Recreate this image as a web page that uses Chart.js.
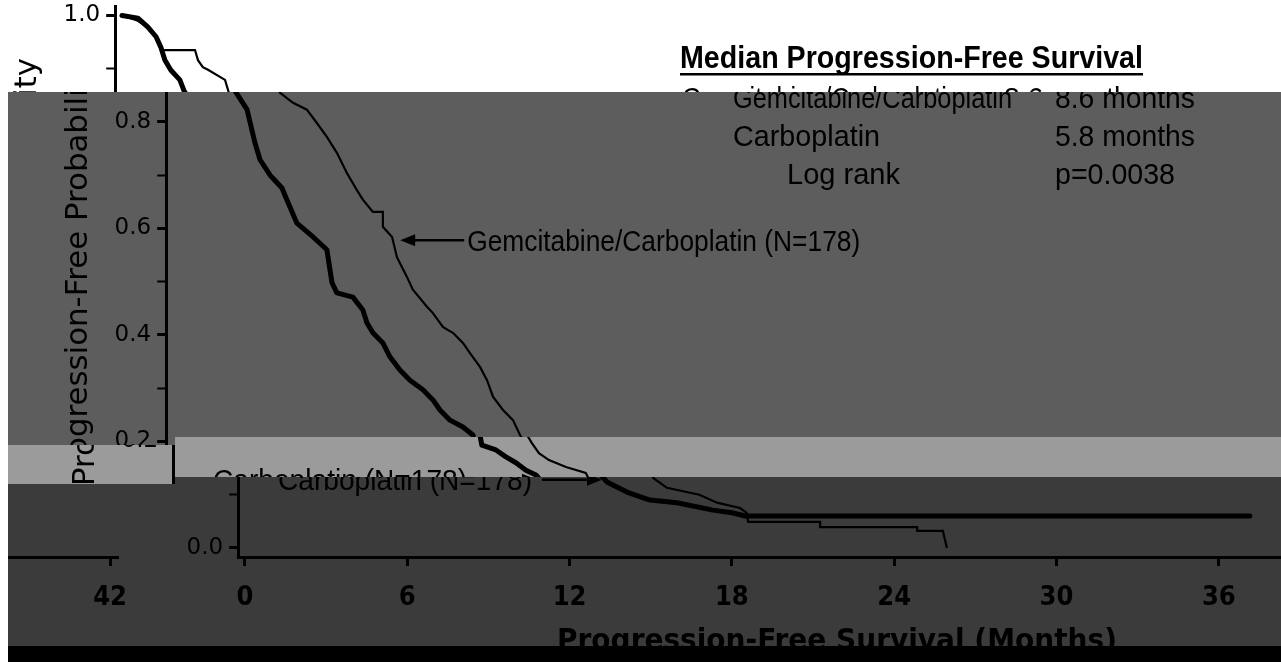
<!DOCTYPE html>
<html lang="en">
<head>
<meta charset="UTF-8" />
<title>Progression-Free Survival</title>
<script src="https://cdn.jsdelivr.net/npm/chart.js"></script>
<style>
  html, body { margin: 0; padding: 0; background: #fff; overflow: hidden; }
  #out { display: block; }
  #hold { position: absolute; left: -3000px; top: 0; }
</style>
</head>
<body>
<canvas id="out" width="1281" height="662"></canvas>
<div id="hold"><canvas id="src" width="1400" height="700"></canvas></div>
<script>
// months since randomisation and progression-free probability
const gemTime = [0, 0.59, 1.07, 1.33, 1.52, 2.70, 2.81, 2.99, 3.18, 3.81, 3.95, 4.44, 4.95, 5.32, 5.69, 6.06, 6.43, 6.80, 7.02, 7.39, 7.76, 7.76, 8.10, 8.28, 8.65, 8.87, 9.39, 9.61, 9.98, 10.17, 10.35, 10.72, 10.98, 11.35, 11.61, 11.83, 12.2, 12.57, 12.83, 13.01, 13.27, 13.64, 14.27, 15.0, 15.1, 15.6, 16.8, 17.45, 18.3, 18.55, 18.6, 21.26, 21.26, 24.85, 24.85, 25.8, 25.95];
const gemPFS  = [1.0, 0.99, 0.973, 0.954, 0.935, 0.935, 0.916, 0.903, 0.898, 0.879, 0.855, 0.836, 0.823, 0.798, 0.772, 0.742, 0.704, 0.672, 0.654, 0.631, 0.631, 0.603, 0.584, 0.546, 0.509, 0.485, 0.453, 0.441, 0.415, 0.409, 0.404, 0.385, 0.366, 0.340, 0.315, 0.284, 0.259, 0.240, 0.212, 0.197, 0.178, 0.165, 0.152, 0.141, 0.131, 0.113, 0.100, 0.085, 0.075, 0.066, 0.049, 0.049, 0.039, 0.039, 0.032, 0.032, 0.0];

const carboTime = [0, 0.59, 0.96, 1.26, 1.44, 1.59, 1.81, 2.14, 2.3, 2.74, 3.03, 3.22, 3.59, 4.03, 4.21, 4.58, 5.18, 5.69, 5.88, 6.06, 6.65, 7.02, 7.17, 7.39, 7.76, 8.02, 8.39, 8.76, 9.24, 9.61, 9.87, 10.24, 10.72, 11.09, 11.16, 11.68, 12.05, 12.42, 12.79, 13.16, 13.38, 14.12, 14.97, 15.97, 17.3, 18.0, 18.5, 37.15];
const carboPFS  = [1.0, 0.995, 0.978, 0.96, 0.94, 0.916, 0.897, 0.879, 0.858, 0.823, 0.761, 0.729, 0.70, 0.676, 0.654, 0.610, 0.584, 0.560, 0.498, 0.479, 0.471, 0.447, 0.423, 0.404, 0.385, 0.359, 0.334, 0.315, 0.297, 0.278, 0.259, 0.240, 0.227, 0.212, 0.193, 0.184, 0.171, 0.160, 0.146, 0.137, 0.124, 0.105, 0.090, 0.085, 0.071, 0.066, 0.060, 0.060];

const xTicks = [0, 6, 12, 18, 24, 30, 36, 42];
const xTickLabels = ['0', '6', '12', '18', '24', '30', '36', '42'];
const yTicks = [0, 0.1, 0.2, 0.3, 0.4, 0.5, 0.6, 0.7, 0.8, 0.9, 1.0];
const yTickLabels = ['0.0', '', '0.2', '', '0.4', '', '0.6', '', '0.8', '', '1.0'];

const medianRows = [
  ['Gemcitabine/Carboplatin', '8.6 months'],
  ['Carboplatin', '5.8 months'],
  ['Log rank', 'p=0.0038']
];

// vertical offset of the drawing inside the source canvas
const OY = 30;
const SANS = "'Liberation Sans', Arial, sans-serif";

function fitText(ctx, text, x, y, width, font) {
  ctx.font = font;
  const w = ctx.measureText(text).width;
  ctx.save();
  ctx.translate(x, y);
  ctx.scale(width / w, 1);
  ctx.fillText(text, 0, 0);
  ctx.restore();
}

function arrow(ctx, x1, y1, x2, y2) {
  const dir = Math.sign(x2 - x1);
  ctx.lineWidth = 2.5;
  ctx.beginPath();
  ctx.moveTo(x1, y1);
  ctx.lineTo(x2 - dir * 12, y2);
  ctx.stroke();
  ctx.beginPath();
  ctx.moveTo(x2, y2);
  ctx.lineTo(x2 - dir * 15, y2 - 6);
  ctx.lineTo(x2 - dir * 15, y2 + 6);
  ctx.closePath();
  ctx.fill();
}

const annotate = {
  id: 'annotate',
  afterDraw(chart) {
    const { ctx } = chart;
    const xs = chart.scales.x, ys = chart.scales.y;
    ctx.save();
    ctx.fillStyle = '#000';
    ctx.strokeStyle = '#000';
    ctx.textAlign = 'left';
    ctx.textBaseline = 'alphabetic';

    // axis titles
    ctx.save();
    ctx.translate(87, 272 + OY);
    ctx.rotate(-Math.PI / 2);
    ctx.font = "30px 'DejaVu Sans', sans-serif";
    const yt = 'Progression-Free Probability';
    const ytw = ctx.measureText(yt).width;
    ctx.scale(428 / ytw, 1);
    ctx.textAlign = 'center';
    ctx.fillText(yt, 0, 0);
    ctx.restore();

    fitText(ctx, 'Progression-Free Survival (Months)', 485, 650 + OY, 560, "bold 31px 'DejaVu Sans', sans-serif");

    // median box
    fitText(ctx, 'Median Progression-Free Survival', 731, 68 + OY, 463, 'bold 32px ' + SANS);
    ctx.fillRect(731, 73 + OY, 463, 2.5);
    const rowLeft = [733, 733, 787];
    const rowW = [279, 147, 113];
    const valW = [140, 140, 120];
    medianRows.forEach((r, i) => {
      const base = 108 + i * 38 + OY;
      fitText(ctx, r[0], rowLeft[i], base, rowW[i], '30px ' + SANS);
      fitText(ctx, r[1], 1055, base, valW[i], '30px ' + SANS);
    });

    // curve labels
    const gx = xs.getPixelForValue(8.4), gy = ys.getPixelForValue(0.578);
    arrow(ctx, gx + 64, gy, gx, gy);
    fitText(ctx, 'Gemcitabine/Carboplatin (N=178)', gx + 67, gy + 11, 393, '29px ' + SANS);

    const cx = xs.getPixelForValue(13.2), cy = ys.getPixelForValue(0.128);
    fitText(ctx, 'Carboplatin (N=178)', cx - 324, cy + 10, 254, '30px ' + SANS);
    arrow(ctx, cx - 60, cy, cx, cy);
    ctx.restore();
  }
};

// bands of the reference picture: each shows the same drawing, shifted sideways
const bands = [
  { x: 0, y: 0, w: 1281, h: 92, bg: '#ffffff', shifts: [-51] },
  { x: 8, y: 92, w: 1273, h: 345, bg: '#5d5d5d', shifts: [0] },
  { x: 8, y: 437, w: 1273, h: 40, bg: '#9b9b9b', shifts: [7] },
  { x: 8, y: 477, w: 1273, h: 169, bg: '#3b3b3b', shifts: [72, 72 - 1271] },
  { x: 8, y: 437, w: 167, h: 8, bg: '#5d5d5d', shifts: [0] },
  { x: 8, y: 477, w: 167, h: 7, bg: '#9b9b9b', shifts: [7] },
  { x: 8, y: 646, w: 1273, h: 16, bg: '#000000', shifts: [] }
];

const compose = {
  id: 'compose',
  afterRender(chart) {
    const out = document.getElementById('out').getContext('2d');
    out.fillStyle = '#fff';
    out.fillRect(0, 0, 1281, 662);
    bands.forEach(b => {
      out.save();
      out.beginPath();
      out.rect(b.x, b.y, b.w, b.h);
      out.clip();
      out.fillStyle = b.bg;
      out.fillRect(b.x, b.y, b.w, b.h);
      b.shifts.forEach(s => out.drawImage(chart.canvas, s, -OY));
      out.restore();
    });
  }
};

const axisGrid = {
  drawOnChartArea: false,
  drawTicks: true,
  tickLength: 9,
  tickColor: '#000'
};

new Chart(document.getElementById('src'), {
  type: 'line',
  data: {
    datasets: [
      {
        label: 'Gemcitabine/Carboplatin (N=178)',
        data: gemTime.map((t, i) => ({ x: t, y: gemPFS[i] })),
        borderColor: '#000',
        borderWidth: 2.2,
        pointRadius: 0,
        tension: 0,
        fill: false
      },
      {
        label: 'Carboplatin (N=178)',
        data: carboTime.map((t, i) => ({ x: t, y: carboPFS[i] })),
        borderColor: '#000',
        borderWidth: 5,
        borderCapStyle: 'round',
        borderJoinStyle: 'round',
        pointRadius: 0,
        tension: 0,
        fill: false
      }
    ]
  },
  options: {
    responsive: false,
    animation: false,
    devicePixelRatio: 1,
    events: [],
    layout: { padding: { left: 0, top: 6.4 + OY, right: 82.8, bottom: 0 } },
    plugins: { legend: { display: false }, tooltip: { enabled: false } },
    scales: {
      x: {
        type: 'linear',
        min: -0.25,
        max: 42.3,
        afterFit: s => { s.height = 113; },
        afterBuildTicks: s => { s.ticks = xTicks.map(v => ({ value: v })); },
        ticks: {
          autoSkip: false,
          maxRotation: 0,
          padding: 16,
          color: '#000',
          font: { family: "'Liberation Sans Narrow', 'DejaVu Sans Condensed', 'DejaVu Sans', sans-serif", size: 27, weight: 'bold' },
          callback: (v, i) => xTickLabels[i]
        },
        grid: Object.assign({ tickWidth: 3 }, axisGrid),
        border: { display: true, color: '#000', width: 3 }
      },
      y: {
        type: 'linear',
        min: -0.017,
        max: 1.017,
        afterFit: s => { s.width = 166.2; },
        afterBuildTicks: s => { s.ticks = yTicks.map(v => ({ value: v })); },
        ticks: {
          autoSkip: false,
          padding: 6,
          color: '#000',
          font: { family: "'DejaVu Sans', sans-serif", size: 23 },
          callback: (v, i) => yTickLabels[i]
        },
        grid: Object.assign({ tickWidth: ctx => (ctx.index % 2 ? 2 : 3) }, axisGrid),
        border: { display: true, color: '#000', width: 3 }
      }
    }
  },
  plugins: [annotate, compose]
});
</script>
</body>
</html>
